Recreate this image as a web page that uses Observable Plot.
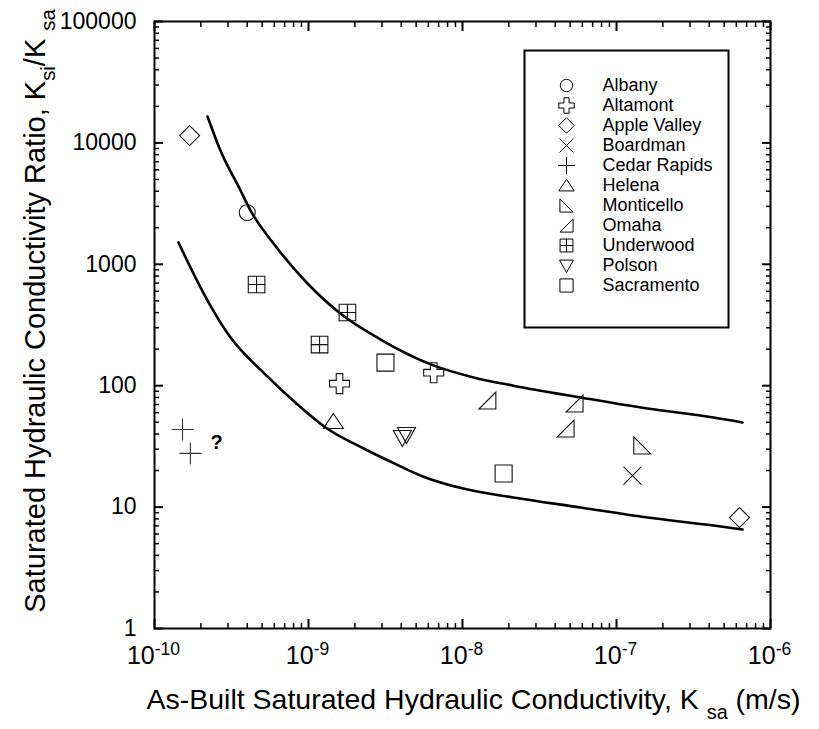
<!DOCTYPE html>
<html><head><meta charset="utf-8">
<script src="https://cdn.jsdelivr.net/npm/d3@7"></script>
<script src="https://cdn.jsdelivr.net/npm/@observablehq/plot@0.6"></script>
<style>
body{margin:0;background:#fff;}
#wrap{position:relative;width:819px;height:729px;font-family:"Liberation Sans",Arial,Helvetica,sans-serif;}
#wrap svg{position:absolute;left:0;top:0;}
#wrap text{white-space:pre;}
</style></head><body><div id="wrap"></div>
<script>
// ---- data ----
const siteNames = ["Albany","Altamont","Apple Valley","Boardman","Cedar Rapids","Helena","Monticello","Omaha","Underwood","Polson","Sacramento"];
const albanyX = [4.0e-10],                 albanyY = [2670];
const altamontX = [1.59e-9, 6.5e-9],       altamontY = [104, 128];
const appleValleyX = [1.69e-10, 6.29e-7],  appleValleyY = [11500, 8.2];
const boardmanX = [1.27e-7],               boardmanY = [18.2];
const cedarRapidsX = [1.52e-10, 1.71e-10], cedarRapidsY = [43.6, 27.7];
const helenaX = [1.45e-9],                 helenaY = [50.7];
const monticelloX = [1.47e-7],             monticelloY = [32.2];
const omahaX = [1.45e-8, 5.34e-8, 4.67e-8],omahaY = [75.5, 71.3, 44.4];
const underwoodX = [4.6e-10, 1.79e-9, 1.18e-9], underwoodY = [682, 401, 218];
const polsonX = [4.07e-9, 4.33e-9],        polsonY = [37.4, 39.6];
const sacramentoX = [3.16e-9, 1.85e-8],    sacramentoY = [155, 18.9];

const upperX = [2.21e-10,2.68e-10,3.62e-10,4.2e-10,5.93e-10,9.86e-10,1.61e-9,2.94e-9,6.48e-9,1.18e-8,2.14e-8,5.84e-8,1.59e-7,4.27e-7,6.58e-7];
const upperY = [16500,8650,4055,2775,1483,695,393,240,147,117,100,80,64.9,54.7,49.8];
const lowerX = [1.43e-10,2.21e-10,3.12e-10,5.1e-10,8.49e-10,1.29e-9,2.28e-9,3.41e-9,5.58e-9,1.01e-8,2.14e-8,5.84e-8,1.59e-7,4.27e-7,6.58e-7];
const lowerY = [1513,503,249,128,70.0,45.3,30.4,23.7,17.8,14.2,12.0,9.93,8.21,7.05,6.54];

const questionX = [2.31e-10], questionY = [34];

const xTickValues = [1e-10,1e-9,1e-8,1e-7,1e-6];
const xTickExps = ["-10","-9","-8","-7","-6"];
const yTickValues = [1,10,100,1000,10000,100000];
const yTickLabels = ["1","10","100","1000","10000","100000"];

const xTitle = "As-Built Saturated Hydraulic Conductivity, K _{sa} (m/s)";
const yTitle = "Saturated Hydraulic Conductivity Ratio, K_{si}/K _{sa}";

// ---- symbols ----
function poly(pts){ return (c,s)=>{ pts.forEach((p,i)=> i? c.lineTo(p[0]*s,p[1]*s) : c.moveTo(p[0]*s,p[1]*s)); c.closePath(); }; }
function mk(fn){ return {draw(c,size){ const s = Math.sqrt(size/Math.PI)/8; fn(c,s); }}; }
const a = 3.3, h = 10;
const symbols = {
  "Albany": mk((c,s)=>{ c.moveTo(8*s,0); c.arc(0,0,8*s,0,2*Math.PI); }),
  "Altamont": mk(poly([[-a,-h],[a,-h],[a,-a],[h,-a],[h,a],[a,a],[a,h],[-a,h],[-a,a],[-h,a],[-h,-a],[-a,-a]])),
  "Apple Valley": mk(poly([[0,-10],[10,0],[0,10],[-10,0]])),
  "Boardman": mk((c,s)=>{ c.moveTo(-9*s,-9*s); c.lineTo(9*s,9*s); c.moveTo(-9*s,9*s); c.lineTo(9*s,-9*s); }),
  "Cedar Rapids": mk((c,s)=>{ c.moveTo(-11*s,0); c.lineTo(11*s,0); c.moveTo(0,-11*s); c.lineTo(0,11*s); }),
  "Helena": mk(poly([[0,-8],[10,7],[-10,7]])),
  "Monticello": mk(poly([[-8.5,-8.5],[-8.5,8.5],[8.5,8.5]])),
  "Omaha": mk(poly([[8.5,-8.5],[8.5,8.5],[-8.5,8.5]])),
  "Underwood": mk((c,s)=>{ const q=8.3*s; c.moveTo(-q,-q); c.lineTo(q,-q); c.lineTo(q,q); c.lineTo(-q,q); c.closePath(); c.moveTo(0,-q); c.lineTo(0,q); c.moveTo(-q,0); c.lineTo(q,0); }),
  "Polson": mk(poly([[-9,-7],[9,-7],[0,9]])),
  "Sacramento": mk(poly([[-8.5,-8.5],[8.5,-8.5],[8.5,8.5],[-8.5,8.5]]))
};
const seriesData = {
  "Albany":[albanyX,albanyY], "Altamont":[altamontX,altamontY], "Apple Valley":[appleValleyX,appleValleyY],
  "Boardman":[boardmanX,boardmanY], "Cedar Rapids":[cedarRapidsX,cedarRapidsY], "Helena":[helenaX,helenaY],
  "Monticello":[monticelloX,monticelloY], "Omaha":[omahaX,omahaY], "Underwood":[underwoodX,underwoodY],
  "Polson":[polsonX,polsonY], "Sacramento":[sacramentoX,sacramentoY]
};

// minor ticks
const xMinor = [], yMinor = [];
for (let e=-10;e<-6;e++) for (let k=2;k<10;k++) xMinor.push(k*Math.pow(10,e));
for (let e=0;e<5;e++) for (let k=2;k<10;k++) yMinor.push(k*Math.pow(10,e));

const FONT = '"Liberation Sans", Arial, Helvetica, sans-serif';
const tickStyle = {tickFormat: ()=>"", label: null, stroke: "black"};

const main = Plot.plot({
  width: 819, height: 729,
  marginLeft: 154, marginRight: 49, marginTop: 21, marginBottom: 101,
  style: {fontFamily: FONT, background: "white", color: "black", overflow: "visible"},
  x: {type: "log", domain: [1e-10, 1e-6]},
  y: {type: "log", domain: [1, 1e5]},
  marks: [
    Plot.axisX(xMinor, {anchor: "bottom", tickSize: -5, strokeWidth: 1.5, ...tickStyle}),
    Plot.axisX(xMinor, {anchor: "top", tickSize: -5, strokeWidth: 1.5, ...tickStyle}),
    Plot.axisX(xTickValues, {anchor: "bottom", tickSize: -9, strokeWidth: 2, ...tickStyle}),
    Plot.axisX(xTickValues, {anchor: "top", tickSize: -9, strokeWidth: 2, ...tickStyle}),
    Plot.axisY(yMinor, {anchor: "left", tickSize: -5, strokeWidth: 1.5, ...tickStyle}),
    Plot.axisY(yMinor, {anchor: "right", tickSize: -5, strokeWidth: 1.5, ...tickStyle}),
    Plot.axisY(yTickValues, {anchor: "left", tickSize: -9, strokeWidth: 2, ...tickStyle}),
    Plot.axisY(yTickValues, {anchor: "right", tickSize: -9, strokeWidth: 2, ...tickStyle}),
    Plot.frame({stroke: "black", strokeWidth: 2}),
    Plot.line(upperX, {x: d=>d, y: (d,i)=>upperY[i], curve: "monotone-x", stroke: "black", strokeWidth: 2.6}),
    Plot.line(lowerX, {x: d=>d, y: (d,i)=>lowerY[i], curve: "monotone-x", stroke: "black", strokeWidth: 2.6}),
    ...siteNames.map(n => Plot.dot(seriesData[n][0], {
      x: d=>d, y: (d,i)=>seriesData[n][1][i], symbol: symbols[n], r: 8,
      stroke: n === "Cedar Rapids" ? "#333" : "#111", fill: "none", strokeWidth: 1.1
    })),
    Plot.text(questionX, {x: d=>d, y: (d,i)=>questionY[i], text: ()=>"?", fontWeight: "bold", fontSize: 20, textAnchor: "start"}),
    Plot.text(xTickValues, {x: d=>d, text: (d,i)=>"10^{"+xTickExps[i]+"}", frameAnchor: "bottom", dy: 35, dx: -1, fontSize: 25, textAnchor: "middle"}),
    Plot.text(yTickValues, {y: d=>d, text: (d,i)=>yTickLabels[i], frameAnchor: "left", dx: -18, textAnchor: "end", fontSize: 23}),
    Plot.text([xTitle], {text: d=>d, frameAnchor: "bottom", dy: 80, dx: 11, fontSize: 28.5, textAnchor: "middle"}),
    Plot.text([yTitle], {text: d=>d, frameAnchor: "left", dx: -119, dy: -14, rotate: -90, fontSize: 29, textAnchor: "middle"})
  ]
});

const legend = Plot.plot({
  width: 206, height: 279, margin: 0,
  style: {fontFamily: FONT, background: "white", color: "black", overflow: "visible"},
  x: {domain: [0, 1], range: [43, 79], axis: null},
  y: {type: "point", domain: siteNames, range: [22, 250], axis: null},
  marks: [
    Plot.frame({inset: 1, stroke: "black", strokeWidth: 2}),
    ...siteNames.map(n => Plot.dot([n], {x: ()=>0, y: d=>d, symbol: symbols[n], r: 6.2, stroke: "black", fill: "none", strokeWidth: 1})),
    Plot.text(siteNames, {x: ()=>1, y: d=>d, textAnchor: "start", fontSize: 18})
  ]
});
legend.style.left = "523px";
legend.style.top = "49px";

const wrap = document.getElementById("wrap");
wrap.appendChild(main);
wrap.appendChild(legend);

// rich text: ^{..} superscript, _{..} subscript
function richify(svg){
  svg.querySelectorAll("text").forEach(t=>{
    const s = t.textContent;
    if (!/[\^_]\{/.test(s)) return;
    const fs = parseFloat(getComputedStyle(t).fontSize) || 16;
    while (t.firstChild) t.removeChild(t.firstChild);
    let off = 0, m;
    const re = /([\^_])\{([^}]*)\}|([^\^_]+)/g;
    while ((m = re.exec(s))) {
      const ts = document.createElementNS("http://www.w3.org/2000/svg", "tspan");
      let target;
      if (m[3] !== undefined) { target = 0; ts.textContent = m[3]; }
      else { target = m[1] === "^" ? -0.36*fs : 0.35*fs; ts.textContent = m[2]; ts.setAttribute("font-size", (0.7*fs).toFixed(1)); }
      ts.setAttribute("dy", (target - off).toFixed(1));
      off = target;
      t.appendChild(ts);
    }
  });
}
richify(main);
</script></body></html>
